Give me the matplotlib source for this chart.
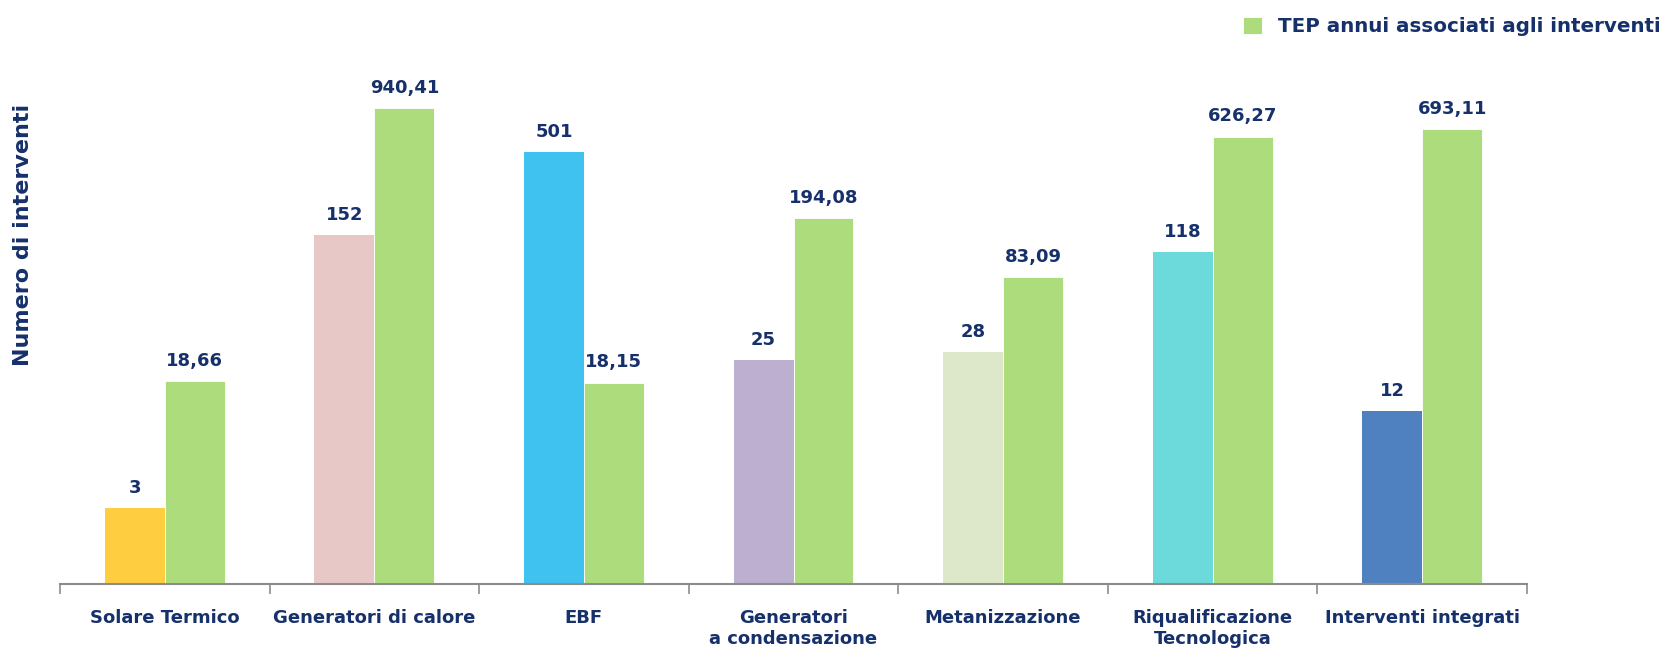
import numpy as np
import matplotlib.pyplot as plt
from matplotlib.ticker import NullLocator, FixedLocator

categorie = ['Solare Termico', 'Generatori di calore', 'EBF', 'Generatori\na condensazione',
             'Metanizzazione', 'Riqualificazione\nTecnologica', 'Interventi integrati']
num_interventi = [3, 152, 501, 25, 28, 118, 12]
tep_annui = [18.66, 940.41, 18.15, 194.08, 83.09, 626.27, 693.11]
colori_interventi = ['#FFCD40', '#E8C7C7', '#40C2F0', '#BCAFD0', '#DDE7C9', '#6CDADB', '#4F80BF']
colore_tep = '#ADDC7C'
blu = '#16306B'

def fmt(v):
    if float(v).is_integer():
        return '%d' % v
    return ('%.2f' % v).replace('.', ',')

fig = plt.figure(figsize=(16.59, 6.51), dpi=100)
ax = fig.add_axes([60 / 1659, 67 / 651, 1467 / 1659, 544 / 651])

x = np.arange(len(categorie))
w = 0.286
b1 = ax.bar(x - w / 2, num_interventi, w, color=colori_interventi, bottom=0)
b2 = ax.bar(x + w / 2, tep_annui, w, color=colore_tep, edgecolor='white', linewidth=0.6,
            label='TEP annui associati agli interventi')

ax.set_yscale('log')
ax.set_ylim(1, 10 ** 3.4)
ax.set_xlim(-0.5, len(categorie) - 0.5)

for rect, v in zip(list(b1) + list(b2), num_interventi + tep_annui):
    ax.annotate(fmt(v), (rect.get_x() + rect.get_width() / 2, rect.get_height()),
                xytext=(0, 8), textcoords='offset points', ha='center', va='bottom',
                fontsize=13, fontweight='bold', color=blu, family='DejaVu Sans')

for s in ['top', 'right', 'left']:
    ax.spines[s].set_visible(False)
ax.spines['bottom'].set_color('#8C8C8C')
ax.spines['bottom'].set_linewidth(1.5)
ax.yaxis.set_major_locator(NullLocator())
ax.yaxis.set_minor_locator(NullLocator())

ax.set_xticks(x)
ax.set_xticklabels(categorie, fontsize=13, fontweight='bold', color=blu, linespacing=1.25)
ax.tick_params(axis='x', which='major', length=0, pad=18)
ax.xaxis.set_minor_locator(FixedLocator(np.arange(-0.5, len(categorie), 1.0)))
ax.tick_params(axis='x', which='minor', length=7, width=1.2, color='#8C8C8C', direction='out')
for lab in ax.get_xticklabels():
    lab.set_verticalalignment('top')

fig.text(23 / 1659, 1 - 235 / 651, 'Numero di interventi', rotation=90, ha='center', va='center',
         fontsize=16, fontweight='bold', color=blu)

leg = fig.legend(handles=[b2], labels=['TEP annui associati agli interventi'], loc='upper right',
                 bbox_to_anchor=(1.012, 1.002), frameon=False, handlelength=1.0, handleheight=1.0,
                 handletextpad=0.8, borderaxespad=0.5,
                 prop={'weight': 'bold', 'size': 14.3, 'family': 'DejaVu Sans'})
for t in leg.get_texts():
    t.set_color(blu)

fig.savefig('out.png', dpi=100)
